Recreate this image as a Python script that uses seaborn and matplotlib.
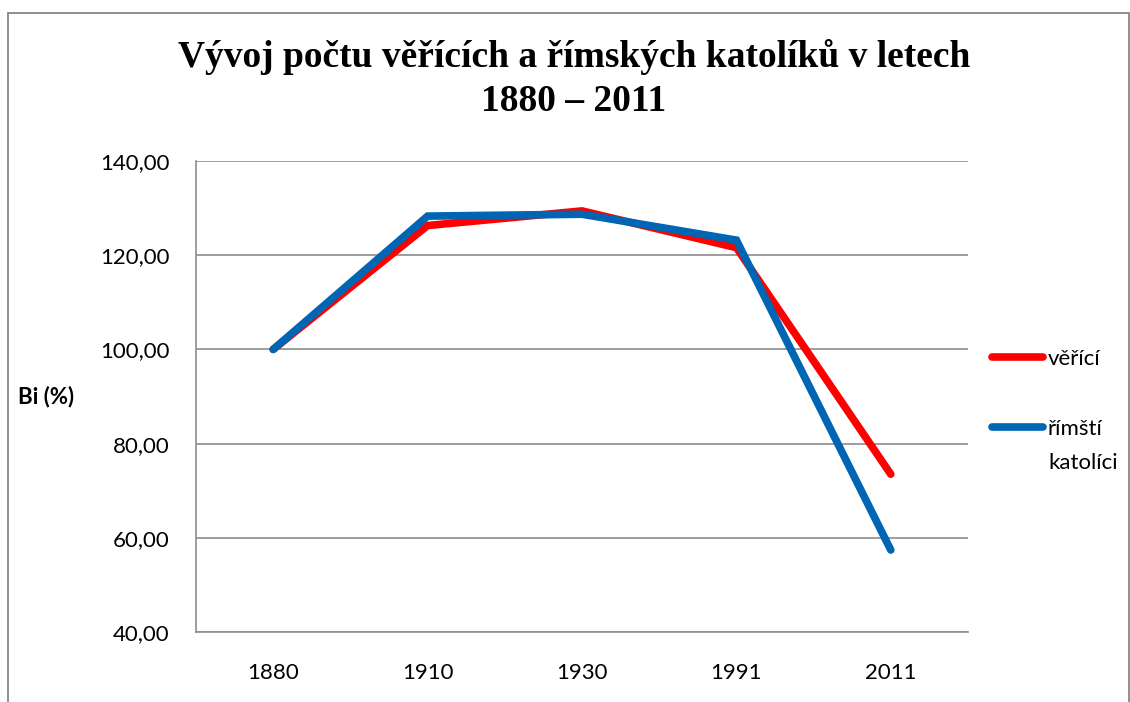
import matplotlib.pyplot as plt
import seaborn as sns
import pandas as pd
from matplotlib.lines import Line2D
from matplotlib.patches import Rectangle

# data
years = ['1880', '1910', '1930', '1991', '2011']
veritci = [100.0, 126.3, 129.4, 121.6, 73.5]
katolici = [100.0, 128.3, 128.7, 123.2, 57.4]
series_names = ['věřící', 'římští katolíci']
colors = ['#FF0000', '#0066B3']
y_ticks = [40, 60, 80, 100, 120, 140]

df = pd.DataFrame({
    'pos': list(range(len(years))) * 2,
    'value': veritci + katolici,
    'series': [series_names[0]] * len(years) + [series_names[1]] * len(years),
})

sns.set_style('white')
plt.rcParams['font.family'] = ['Lato', 'DejaVu Sans']
plt.rcParams['text.color'] = 'black'

fig = plt.figure(figsize=(11.3, 7.02), dpi=100)
ax = fig.add_axes([196 / 1130, 1 - 632 / 702, 772 / 1130, 471 / 702])

sns.lineplot(data=df, x='pos', y='value', hue='series', palette=colors,
             linewidth=5.5, legend=False, ax=ax, sort=False)
for ln in ax.lines:
    ln.set_solid_capstyle('round')
    ln.set_solid_joinstyle('miter')

grid_c = '#8C8C8C'
ax.set_xlim(-0.5, len(years) - 0.5)
ax.set_ylim(40, 140)
ax.set_yticks(y_ticks)
ax.set_yticklabels([f'{v:.2f}'.replace('.', ',') for v in y_ticks])
ax.set_xticks(range(len(years)))
ax.set_xticklabels(years)
ax.set_xticks([i - 0.5 for i in range(len(years) + 1)], minor=True)
ax.yaxis.grid(True, color=grid_c, linewidth=1.2)
ax.set_axisbelow(True)
ax.set_xlabel('')
ax.set_ylabel('')

for s in ['top', 'right']:
    ax.spines[s].set_visible(False)
for s in ['left', 'bottom']:
    ax.spines[s].set_color(grid_c)
    ax.spines[s].set_linewidth(1.2)

ax.tick_params(axis='y', which='major', direction='out', length=6, width=1.2,
               color=grid_c, pad=13, labelsize=16, labelcolor='black')
ax.tick_params(axis='x', which='major', length=0, pad=22, labelsize=16,
               labelcolor='black')
ax.tick_params(axis='x', which='minor', direction='out', length=6, width=1.2,
               color=grid_c)

# title
fig.text(574 / 1130, 1 - 79 / 702, 'Vývoj počtu věřících a římských katolíků v letech\n1880 – 2011',
         ha='center', va='center', fontsize=27, fontweight='bold', color='black',
         family=['Liberation Serif', 'DejaVu Serif'], linespacing=1.32)

# y label
fig.text(18 / 1130, 1 - 397 / 702, 'Bi (%)', ha='left', va='center',
         fontsize=16, fontweight='bold', color='black')

# legend (Excel style, label wrapped on two lines)
leg_y = [357, 427]
for c, yy in zip(colors, leg_y):
    fig.add_artist(Line2D([992 / 1130, 1043 / 1130], [1 - yy / 702] * 2,
                          color=c, linewidth=5.5, solid_capstyle='round',
                          transform=fig.transFigure))
fig.text(1048 / 1130, 1 - 359 / 702, 'věřící', ha='left', va='center', fontsize=16)
fig.text(1048 / 1130, 1 - 429 / 702, 'římští', ha='left', va='center', fontsize=16)
fig.text(1048 / 1130, 1 - 463 / 702, 'katolíci', ha='left', va='center', fontsize=16)

# outer frame
fig.add_artist(Rectangle((7.5 / 1130, -0.05), 1121 / 1130, 1.05 - 12.5 / 702,
                         transform=fig.transFigure, fill=False,
                         edgecolor='#878787', linewidth=1.3))

fig.savefig('out.png', dpi=100)
